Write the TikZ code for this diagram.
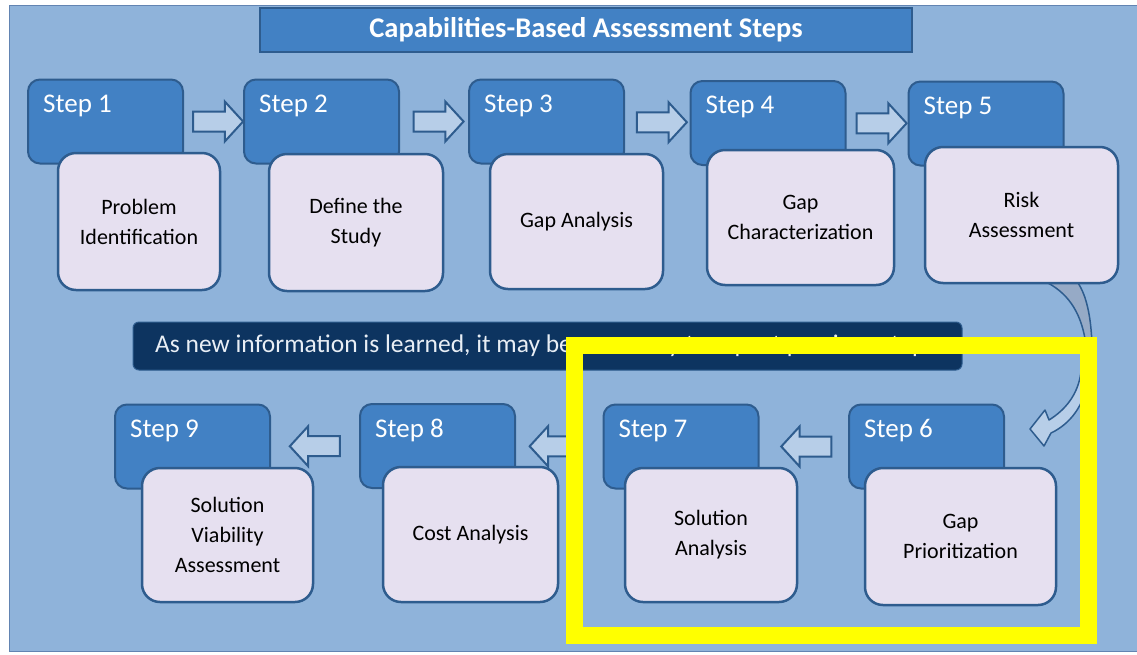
\documentclass[tikz,border=0pt]{standalone}
\usepackage{fontspec}
\setmainfont{Carlito}
\usetikzlibrary{shapes.arrows,calc}

\definecolor{bgblue}{RGB}{143,179,218}
\definecolor{framecol}{RGB}{98,132,178}
\definecolor{tabblue}{RGB}{66,129,196}
\definecolor{edgeblue}{RGB}{46,92,142}
\definecolor{cardlilac}{RGB}{230,224,240}
\definecolor{arrowfill}{RGB}{183,206,232}
\definecolor{twistgrey}{RGB}{150,170,198}
\definecolor{bannerblue}{RGB}{13,52,96}
\definecolor{bannertext}{RGB}{232,238,245}
\definecolor{markyellow}{RGB}{255,255,0}

\begin{document}
\begin{tikzpicture}[x=1pt,y=-1pt,
    tabbox/.style={draw=edgeblue, line width=2pt, fill=tabblue, rounded corners=12pt,
        minimum width=155pt, minimum height=84pt, inner sep=0pt},
    steplabel/.style={text=white, font=\fontsize{27}{30}\selectfont, inner sep=0pt},
    card/.style={draw=edgeblue, line width=2.5pt, fill=cardlilac, rounded corners=18pt,
        inner sep=0pt, align=center, font=\fontsize{22}{30}\selectfont},
    fatarrow/.style={single arrow, draw=edgeblue, line width=2pt, fill=arrowfill,
        minimum height=50pt, text height=9pt, text depth=9pt, single arrow head extend=10pt,
        single arrow tip angle=95, inner sep=0pt}]
    \useasboundingbox (0,0) rectangle (1137,654);
    \fill[white] (0,0) rectangle (1137,654);
    % Background panel
    \draw[draw=framecol, fill=bgblue, line width=1pt] (9,5) rectangle (1145,651);
    % Title
    \node[draw=edgeblue, line width=2pt, fill=tabblue, minimum width=652pt, minimum height=44pt,
        text=white, font=\bfseries\fontsize{28.5}{30}\selectfont] (title) at (586,30)
        {Capabilities-Based Assessment Steps};
    % Banner
    \node[draw=edgeblue, line width=1pt, fill=bannerblue, rounded corners=6pt,
        minimum width=829pt, minimum height=48pt] (banner) at (547.5,346) {};
    \node[anchor=west, text=bannertext, inner sep=0pt, font=\fontsize{25.5}{30}\selectfont]
        (bannertxt) at (155,346) {As new information is learned, it may be necessary to repeat previous steps};
    % Curved arrow from step 5 to step 6
    \draw[draw=edgeblue, line width=1.5pt, fill=twistgrey]
        (1048,283) .. controls (1070,295) and (1082,315) .. (1086,345)
        -- (1092,345) .. controls (1091,315) and (1086,295) .. (1078,283) -- cycle;
    \draw[draw=edgeblue, line width=1.5pt, fill=arrowfill, line join=round]
        (1081,372) .. controls (1078,395) and (1065,410) .. (1049,420)
        -- (1045,410) -- (1030,429) -- (1044,446) -- (1051,433)
        .. controls (1070,424) and (1084,406) .. (1088,380) -- cycle;
    % Steps: tab and card
    \foreach \i/\tx/\ty/\bx/\by/\bw/\bh/\txt in {
            1/105.5/121.5/139/221.5/162/137/{Problem\\Identification},
            2/321.5/121.5/356/222.5/174/137/{Define the\\Study},
            3/546.5/121.5/576.5/221.5/173/135/{Gap Analysis},
            4/768/123/800.5/217.5/187/135/{Gap\\Characterization},
            5/986/123.5/1021.5/215/193/136/{Risk\\Assessment},
            6/926.5/446.5/960.5/536.5/191/137/{Gap\\Prioritization},
            7/681/446.5/711/535/172/134/{Solution\\Analysis},
            8/437.5/446/470.5/534.5/175/135/{Cost Analysis},
            9/192.5/446.5/227.5/535/171/134/{Solution\\Viability\\Assessment}} {
            \node[tabbox, label={[steplabel, anchor=north west, xshift=16pt, yshift=-16pt]north west:Step \i}]
                (tab\i) at (\tx,\ty) {};
            \node[card, minimum width=\bw pt, minimum height=\bh pt] (box\i) at (\bx,\by) {\txt};
        }
    % Block arrows between steps
    \node[fatarrow] (a12) at ($(tab1.east)!0.5!(tab2.west)$) {};
    \node[fatarrow] (a23) at ($(tab2.east)!0.5!(tab3.west)$) {};
    \node[fatarrow] (a34) at ($(tab3.east)!0.5!(tab4.west)$) {};
    \node[fatarrow] (a45) at ($(tab4.east)!0.5!(tab5.west)$) {};
    \node[fatarrow, shape border rotate=180] (a67) at ($(tab6.west)!0.42!(tab7.east)$) {};
    \node[fatarrow, shape border rotate=180] (a78) at ($(tab7.west)!0.5!(tab8.east)$) {};
    \node[fatarrow, shape border rotate=180] (a89) at ($(tab8.west)!0.45!(tab9.east)$) {};
    % Highlight frame
    \draw[markyellow, line width=17pt] (574.5,345.5) rectangle (1088.5,635.5);
\end{tikzpicture}
\end{document}
